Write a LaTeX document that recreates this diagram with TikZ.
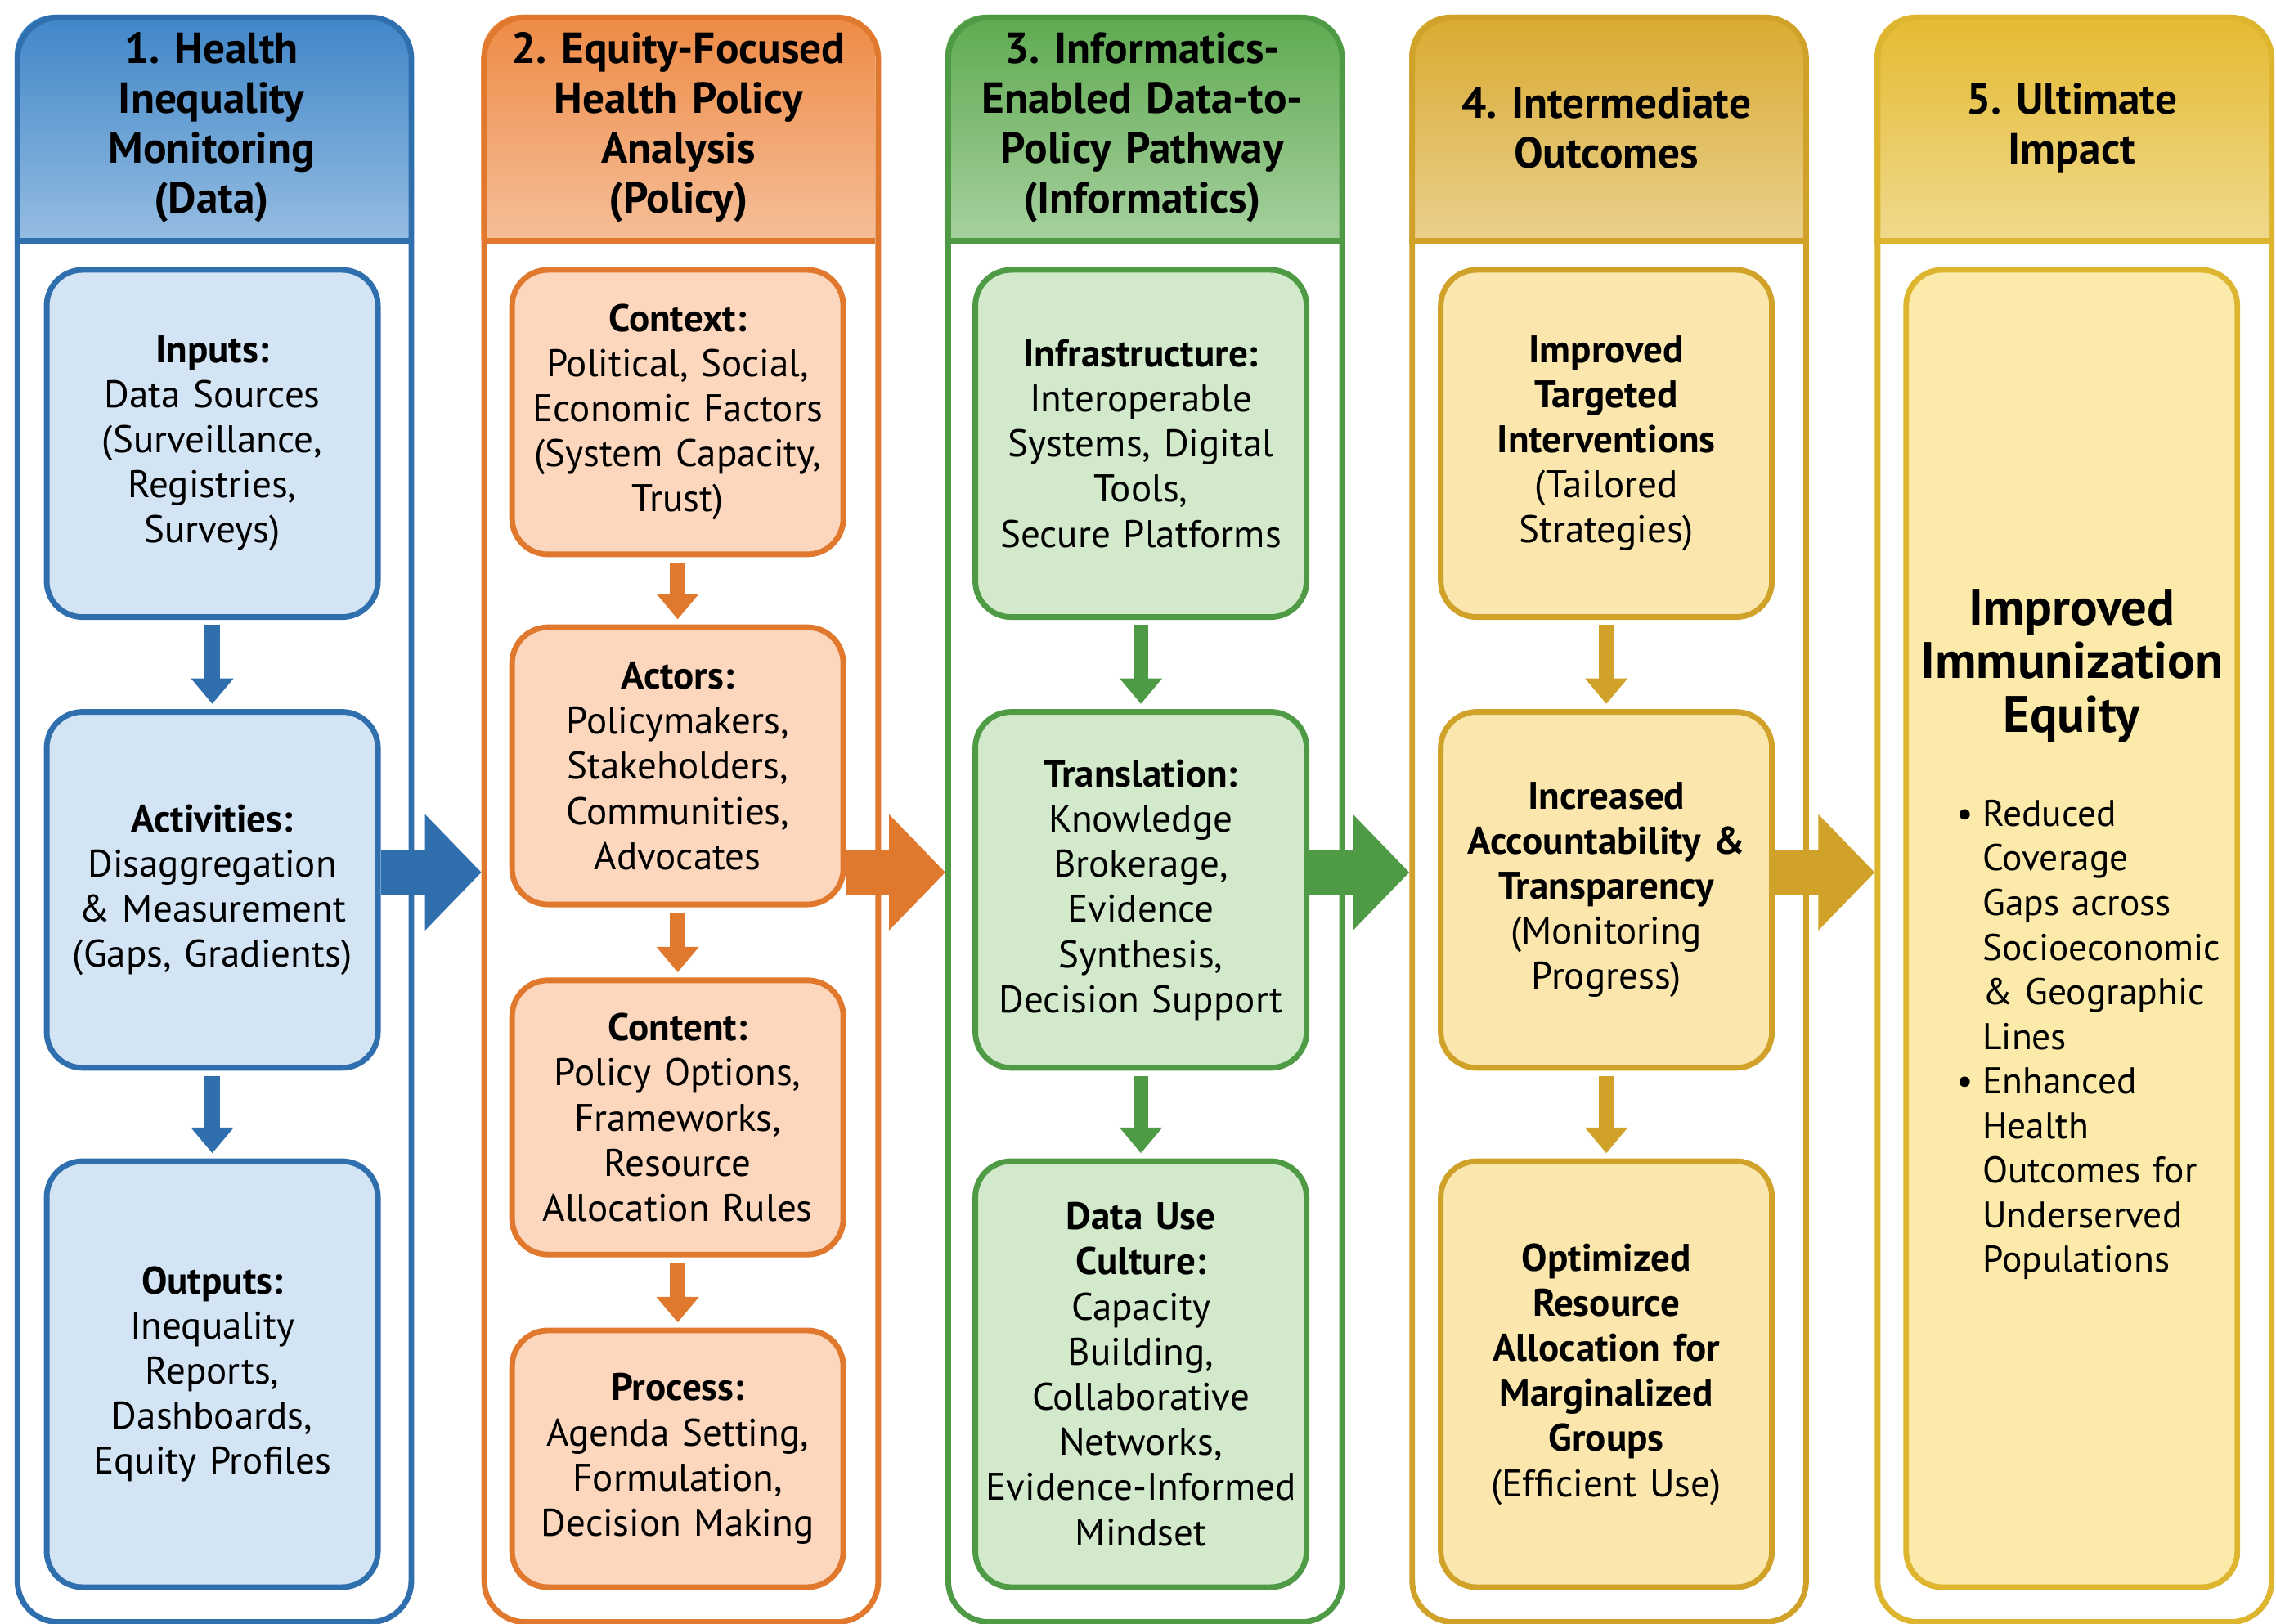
\documentclass[tikz,border=0pt]{standalone}
\usepackage{fontspec}
\setmainfont{PT Sans}
\usetikzlibrary{arrows.meta,calc}
\frenchspacing
\definecolor{bluedk}{HTML}{2F6FAE}\definecolor{bluelt}{HTML}{D3E4F5}\definecolor{bluehd}{HTML}{3F86C8}
\definecolor{orgdk}{HTML}{E0782E}\definecolor{orglt}{HTML}{FCD7BE}\definecolor{orghd}{HTML}{EE8A45}
\definecolor{grndk}{HTML}{4F9A45}\definecolor{grnlt}{HTML}{D2EACB}\definecolor{grnhd}{HTML}{5EAA50}
\definecolor{goldk}{HTML}{D0A22A}\definecolor{gollt}{HTML}{FBE7AE}\definecolor{golhd}{HTML}{D9AA30}
\definecolor{yeldk}{HTML}{DDB52E}\definecolor{yellt}{HTML}{FBEAAA}\definecolor{yelhd}{HTML}{E4BA30}
\tikzset{
  box/.style={draw=#1dk,fill=#1lt,line width=2.2pt,rounded corners=14pt,align=center,
    text width=4.4cm,inner sep=2pt,font=\fontsize{15}{17.6}\selectfont},
  step/.style={draw=#1dk,line width=6pt,-{Triangle[length=10pt,width=16pt]},shorten <=2pt,shorten >=2pt},
  big/.style={draw=#1dk,line width=18pt,-{Triangle[length=22pt,width=44pt]}},
  head/.style={font=\bfseries\fontsize{17}{19.5}\selectfont,align=center,text width=5cm}
}
% one column: name, left x, colour, header text
\newcommand{\pcolumn}[4]{%
  \begin{scope}
    \clip[rounded corners=16pt] (#2,-0.2) rectangle ++(5.4,-22);
    \shade[top color=#3hd,bottom color=#3hd!55!white] (#2,-0.2) rectangle ++(5.4,-3.1);
  \end{scope}
  \node[draw=#3dk,line width=2.2pt,rounded corners=16pt,minimum width=5.4cm,minimum height=22cm,
    anchor=north west] (#1) at (#2,-0.2) {};
  \draw[#3dk,line width=2.2pt] (#2,-3.3) -- ++(5.4,0);
  \node[head] at (#2+2.7,-1.75) {#4};
}
\begin{document}
\begin{tikzpicture}
\useasboundingbox (0,0) rectangle (31.2,-22.26);
\fill[white] (0,0) rectangle (31.2,-22.26);
%columns
\pcolumn{c1}{0.2}{blue}{1. Health\\Inequality\\Monitoring\\(Data)}
\pcolumn{c2}{6.6}{org}{2. Equity-Focused\\Health Policy\\Analysis\\(Policy)}
\pcolumn{c3}{12.96}{grn}{3. Informatics-\\Enabled Data-to-\\Policy Pathway\\(Informatics)}
\pcolumn{c4}{19.32}{gol}{4. Intermediate\\Outcomes}
\pcolumn{c5}{25.7}{yel}{5. Ultimate\\Impact}

%column 1
\node[box=blue,minimum height=4.76cm] (b11) at (2.91,-6.08) {\textbf{Inputs:}\\Data Sources\\(Surveillance,\\Registries,\\Surveys)};
\node[box=blue,minimum height=4.88cm] (b12) at (2.91,-12.2) {\textbf{Activities:}\\Disaggregation\\\& Measurement\\(Gaps, Gradients)};
\node[box=blue,minimum height=5.84cm] (b13) at (2.91,-18.84) {\textbf{Outputs:}\\Inequality\\Reports,\\Dashboards,\\Equity Profiles};
\draw[step=blue] (b11) -- (b12);
\draw[step=blue] (b12) -- (b13);

%column 2
\node[box=org,minimum height=3.9cm] (b21) at (9.29,-5.65) {\textbf{Context:}\\Political, Social,\\Economic Factors\\(System Capacity,\\Trust)};
\node[box=org,minimum height=3.8cm] (b22) at (9.29,-10.5) {\textbf{Actors:}\\Policymakers,\\Stakeholders,\\Communities,\\Advocates};
\node[box=org,minimum height=3.76cm] (b23) at (9.29,-15.32) {\textbf{Content:}\\Policy Options,\\Frameworks,\\Resource\\Allocation Rules};
\node[box=org,minimum height=3.52cm] (b24) at (9.29,-20) {\textbf{Process:}\\Agenda Setting,\\Formulation,\\Decision Making};
\draw[step=org] (b21) -- (b22);
\draw[step=org] (b22) -- (b23);
\draw[step=org] (b23) -- (b24);

%column 3
\node[box=grn,minimum height=4.76cm] (b31) at (15.64,-6.08) {\textbf{Infrastructure:}\\Interoperable\\Systems, Digital\\Tools,\\Secure Platforms};
\node[box=grn,minimum height=4.88cm] (b32) at (15.64,-12.2) {\textbf{Translation:}\\Knowledge\\Brokerage,\\Evidence\\Synthesis,\\Decision Support};
\node[box=grn,minimum height=5.84cm] (b33) at (15.64,-18.84) {\textbf{Data Use\\Culture:}\\Capacity\\Building,\\Collaborative\\Networks,\\Evidence-Informed\\Mindset};
\draw[step=grn] (b31) -- (b32);
\draw[step=grn] (b32) -- (b33);

%column 4
\node[box=gol,minimum height=4.76cm] (b41) at (22.02,-6.08) {\textbf{Improved\\Targeted\\Interventions}\\(Tailored\\Strategies)};
\node[box=gol,minimum height=4.88cm] (b42) at (22.02,-12.2) {\textbf{Increased\\Accountability \&\\Transparency}\\(Monitoring\\Progress)};
\node[box=gol,minimum height=5.84cm] (b43) at (22.02,-18.84) {\textbf{Optimized\\Resource\\Allocation for\\Marginalized\\Groups}\\(Efficient Use)};
\draw[step=gol] (b41) -- (b42);
\draw[step=gol] (b42) -- (b43);

%column 5
\node[box=yel,minimum height=18.06cm] (b51) at (28.4,-12.73) {};
\node[align=center,text width=4.6cm,anchor=north,font=\bfseries\fontsize{20}{21}\selectfont] (imp) at (28.4,-7.95)
  {Improved\\Immunization\\Equity};
\node[anchor=north,text width=4.3cm,font=\fontsize{14.5}{17.4}\selectfont,align=left] (bul) at ([xshift=0.05cm]imp.south)
  {\hyphenpenalty=10000
   \begin{itemize}\setlength{\itemsep}{0pt}\setlength{\parskip}{0pt}\setlength{\leftmargin}{0.7em}\setlength{\labelsep}{0.25em}\setlength{\topsep}{0pt}
   \item[\textbullet] Reduced\\Coverage\\Gaps across Socioeconomic \& Geographic Lines
   \item[\textbullet] Enhanced\\Health\\Outcomes for Underserved Populations
   \end{itemize}};

%big arrows
\draw[big=blue] (b12.east |- 0,-11.96) -- (c2.west |- 0,-11.96);
\draw[big=org] (b22.east |- 0,-11.96) -- (c3.west |- 0,-11.96);
\draw[big=grn] (b32.east |- 0,-11.96) -- (c4.west |- 0,-11.96);
\draw[big=gol] (b42.east |- 0,-11.96) -- (c5.west |- 0,-11.96);
\end{tikzpicture}
\end{document}
